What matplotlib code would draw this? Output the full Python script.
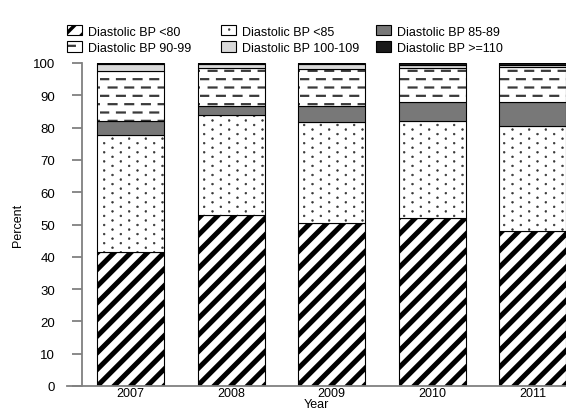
import matplotlib
matplotlib.use('Agg')
import matplotlib as mpl
import matplotlib.pyplot as plt
import numpy as np
from matplotlib import hatch as mhatch
from matplotlib.path import Path
from matplotlib.patches import Patch

years = ['2007', '2008', '2009', '2010', '2011']
bp_lt80 = [41.6, 52.9, 50.6, 51.9, 47.9]
bp_lt85 = [36.1, 31.0, 31.0, 30.1, 32.7]
bp_85_89 = [4.4, 2.9, 5.0, 5.8, 7.2]
bp_90_99 = [15.4, 11.6, 11.5, 10.8, 11.0]
bp_100_109 = [2.3, 1.4, 1.7, 0.9, 0.6]
bp_110 = [0.2, 0.2, 0.2, 0.5, 0.6]
labels = ['Diastolic BP <80', 'Diastolic BP <85', 'Diastolic BP 85-89',
          'Diastolic BP 90-99', 'Diastolic BP 100-109', 'Diastolic BP >=110']


# staggered short dashes, drawn for the '|' hatch character
class DashHatch(mhatch.HatchPatternBase):
    def __init__(self, hatch, density):
        self.segs = []
        if '|' in hatch:
            rows, cols = 12, 6
            for i in range(rows):
                off = 0.5 if i % 2 else 0.0
                y = (i + 0.5) / rows
                for j in range(cols):
                    x0 = (j + off + 0.02) / cols
                    self.segs.append((x0, x0 + 0.47 / cols, y))
        self.num_vertices = 2 * len(self.segs)

    def set_vertices_and_codes(self, vertices, codes):
        for k, (x0, x1, y) in enumerate(self.segs):
            vertices[2 * k] = (x0, y)
            vertices[2 * k + 1] = (x1, y)
            codes[2 * k] = Path.MOVETO
            codes[2 * k + 1] = Path.LINETO


# small filled dots in staggered rows, drawn for the 'o' hatch character
class DotHatch(mhatch.HatchPatternBase):
    def __init__(self, hatch, density):
        circle = Path.unit_circle()
        self.shape_vertices = circle.vertices * 0.009
        self.shape_codes = circle.codes
        self.points = []
        if 'o' in hatch:
            rows, cols = 22, 6
            for i in range(rows):
                off = 0.5 if i % 2 else 0.0
                for j in range(cols):
                    self.points.append(((j + off + 0.25) / cols, (i + 0.5) / rows))
        self.num_vertices = len(self.points) * len(self.shape_vertices)

    def set_vertices_and_codes(self, vertices, codes):
        n = len(self.shape_vertices)
        for k, (x, y) in enumerate(self.points):
            vertices[k * n:(k + 1) * n] = self.shape_vertices + (x, y)
            codes[k * n:(k + 1) * n] = self.shape_codes


mhatch._hatch_types = [mhatch.HorizontalHatch, DashHatch, mhatch.NorthEastHatch,
                       mhatch.SouthEastHatch, DotHatch, mhatch.LargeCircles,
                       mhatch.SmallFilledCircles, mhatch.Stars]

plt.rcParams['font.family'] = ['Liberation Sans', 'DejaVu Sans']
plt.rcParams['font.size'] = 9

# (hatch, facecolor, hatch colour, hatch linewidth)
styles = [('//', 'white', 'black', 3.6),
          ('o', 'white', '#333333', 0.4),
          ('', '#787878', '#787878', 1.0),
          ('|', 'white', '#3a3a3a', 1.6),
          ('', '#d9d9d9', '#d9d9d9', 1.0),
          ('', '#1a1a1a', '#1a1a1a', 1.0)]
series = [bp_lt80, bp_lt85, bp_85_89, bp_90_99, bp_100_109, bp_110]

fig = plt.figure(figsize=(5.66, 4.10), dpi=100)
ax = fig.add_axes([67 / 566, 23 / 410, 499 / 566, 323 / 410])

x = np.arange(len(years))
width = 0.667
bottom = np.zeros(len(years))
proxies = []
for vals, (h, fc, hc, hlw), lab in zip(series, styles, labels):
    vals = np.array(vals)
    with mpl.rc_context({'hatch.linewidth': hlw}):
        bars = ax.bar(x, vals, width, bottom=bottom, color=fc, edgecolor=hc,
                      hatch=h, linewidth=0)
        p = Patch(facecolor=fc, edgecolor=hc, hatch=h, linewidth=0.8, label=lab)
    for b in bars:
        if hasattr(b, 'set_hatch_linewidth'):
            b.set_hatch_linewidth(hlw)
    ax.bar(x, vals, width, bottom=bottom, fill=False, edgecolor='black', linewidth=0.8)
    proxies.append(p)
    bottom += vals

ax.set_xlim(-0.632, 4.333)
ax.set_ylim(0, 100)
ax.set_yticks(np.arange(0, 101, 10))
ax.set_xticks(x)
ax.set_xticklabels(years)
ax.spines['top'].set_visible(False)
ax.spines['right'].set_visible(False)
ax.spines['left'].set_position(('data', -0.483))
for s in ['left', 'bottom']:
    ax.spines[s].set_color('#808080')
    ax.spines[s].set_linewidth(1.3)
ax.tick_params(axis='y', length=7.2, width=1.3, color='#808080', pad=12,
               labelsize=9.5)
ax.tick_params(axis='x', length=0, pad=1)
ax.set_xlabel('Year', labelpad=-1)
ax.set_ylabel('Percent')
ax.yaxis.set_label_coords(-0.086, 0.5)

col_x = [67, 221, 376]
for c in range(3):
    idx = [c, c + 3]
    leg = fig.legend(handles=[proxies[i] for i in idx], loc='upper left',
                     bbox_to_anchor=(col_x[c] / 566, 1 - 26 / 410), frameon=False,
                     borderpad=0, borderaxespad=0, handlelength=1.2, handleheight=0.9,
                     handletextpad=0.5, labelspacing=0.3, fontsize=9)
    for i, lh in zip(idx, leg.legend_handles):
        lh.set_edgecolor('black')
        if hasattr(lh, 'set_hatchcolor'):
            lh.set_hatchcolor(styles[i][2])
        else:
            lh._hatch_color = mpl.colors.to_rgba(styles[i][2])
        if hasattr(lh, 'set_hatch_linewidth'):
            lh.set_hatch_linewidth(min(styles[i][3], 2.5))

fig.savefig('out.png', dpi=100)
